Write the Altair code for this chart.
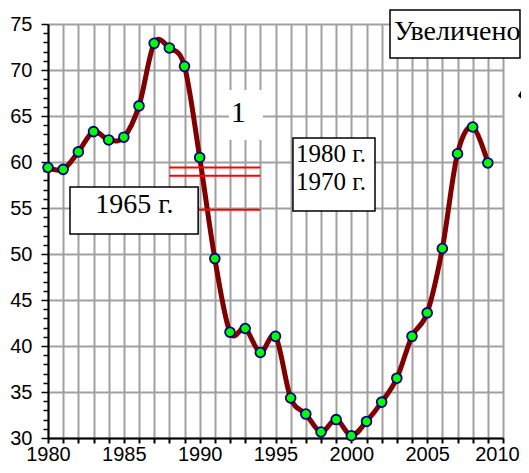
import altair as alt
import pandas as pd

# ---- data ----
years = list(range(1980, 2010))
values = [59.4, 59.2, 61.1, 63.3, 62.4, 62.7, 66.1, 72.9, 72.4, 70.4,
          60.5, 49.5, 41.5, 41.9, 39.3, 41.05, 34.35, 32.6, 30.65, 32.0,
          30.25, 31.8, 33.9, 36.5, 41.05, 43.6, 50.6, 60.9, 63.8, 59.9]

red_levels = [59.4, 58.5, 54.8]
red_start = [1988.0, 1988.0, 1988.0]
red_end = [1994.0, 1994.0, 1994.0]

box_x = [1981.45, 1996.15, 2002.55]
box_x2 = [1989.9, 2001.56, 2011.12]
box_y = [57.28, 62.61, 76.52]
box_y2 = [52.17, 54.67, 71.3]

white_x, white_x2, white_y, white_y2 = [1991.93], [1994.17], [67.83], [62.39]

label_text = ["1965 г.", "1980 г.", "1970 г.", "Увеличено", "1"]
label_x = [1985.7, 1998.66, 1998.66, 2006.98, 1992.55]
label_y = [54.42, 60.03, 56.96, 73.26, 64.38]
label_size = [28, 25, 25, 28, 30]

arrow_x, arrow_y = [2011.38], [67.5]

x_ticks = list(range(1980, 2011))
y_ticks = list(range(30, 76))

df = pd.DataFrame({"year": years, "value": values})
red_df = pd.DataFrame({"x": red_start, "x2": red_end, "y": red_levels})
box_df = pd.DataFrame({"x": box_x, "x2": box_x2, "y": box_y, "y2": box_y2})
white_df = pd.DataFrame({"x": white_x, "x2": white_x2, "y": white_y, "y2": white_y2})
lab_df = pd.DataFrame({"t": label_text, "x": label_x, "y": label_y, "s": label_size})
arr_df = pd.DataFrame({"x": arrow_x, "y": arrow_y})

xs = alt.Scale(domain=[1980, 2010], nice=False, zero=False)
ys = alt.Scale(domain=[30, 75], nice=False, zero=False)

x_axis = alt.Axis(values=x_ticks, format="d",
                  labelExpr="datum.value % 5 === 0 ? datum.label : ''",
                  labelOverlap=False, labelFlush=False,
                  labelOffset={"condition": {"test": "datum.value === 2010", "value": -6}, "value": 0},
                  grid=True, gridColor="#a0a0a0", gridWidth=2,
                  tickColor="black", tickSize=5, tickWidth=2,
                  domainColor="black", domainWidth=2,
                  labelFont="Liberation Sans", labelFontSize=20,
                  labelColor="black", labelPadding=1.5, title=None, zindex=0)
y_axis = alt.Axis(values=y_ticks, format="d",
                  labelExpr="datum.value % 5 === 0 ? datum.label : ''",
                  labelOverlap=False, labelFlush=False,
                  grid=True, gridColor="#a0a0a0", gridWidth=2,
                  gridOpacity={"condition": {"test": "datum.value % 5 === 0", "value": 1}, "value": 0},
                  tickColor="black",
                  tickSize={"condition": {"test": "datum.value % 5 === 0", "value": 7}, "value": 5},
                  tickWidth=1.5,
                  domainColor="black", domainWidth=2,
                  labelFont="Liberation Sans", labelFontSize=20,
                  labelColor="black", labelPadding=9, title=None, zindex=0)


def X(f):
    return alt.X(f, scale=xs, axis=x_axis)


def Y(f):
    return alt.Y(f, scale=ys, axis=y_axis)


line = alt.Chart(df).mark_line(color="#800000", strokeWidth=5,
                               interpolate="cardinal").encode(
    x=X("year:Q"), y=Y("value:Q"))

pts = alt.Chart(df).mark_point(filled=True, fill="#00ff00", stroke="#000080",
                               strokeWidth=1.8, size=95, opacity=1).encode(
    x=X("year:Q"), y=Y("value:Q"))

reds = alt.Chart(red_df).mark_rule(color="#ff0000", strokeWidth=2).encode(
    x=X("x:Q"), x2="x2:Q", y=Y("y:Q"))

boxes = alt.Chart(box_df).mark_rect(fill="white", stroke="black", strokeWidth=1.5).encode(
    x=X("x:Q"), x2="x2:Q", y=Y("y:Q"), y2="y2:Q")

white = alt.Chart(white_df).mark_rect(fill="white").encode(
    x=X("x:Q"), x2="x2:Q", y=Y("y:Q"), y2="y2:Q")

texts = alt.Chart(lab_df).mark_text(font="Liberation Serif", color="black",
                                    align="center", baseline="alphabetic").encode(
    x=X("x:Q"), y=Y("y:Q"), text="t:N",
    size=alt.Size("s:Q", scale=None, legend=None))

arrow = alt.Chart(arr_df).mark_point(
    shape="M-0.44,0.22 L0.3,-1.04 L0.44,0.96 Z", filled=True, fill="black",
    size=729, opacity=1).encode(x=X("x:Q"), y=Y("y:Q"))

chart = alt.layer(line, reds, white, boxes, texts, pts, arrow).properties(
    width=455, height=414,
    autosize=alt.AutoSizeParams(type="none"),
    padding={"left": 40, "top": 16, "right": 18, "bottom": 27},
).configure_view(stroke=None).configure(background="white")

chart.save("out.html", embed_options={"renderer": "svg", "actions": False})
